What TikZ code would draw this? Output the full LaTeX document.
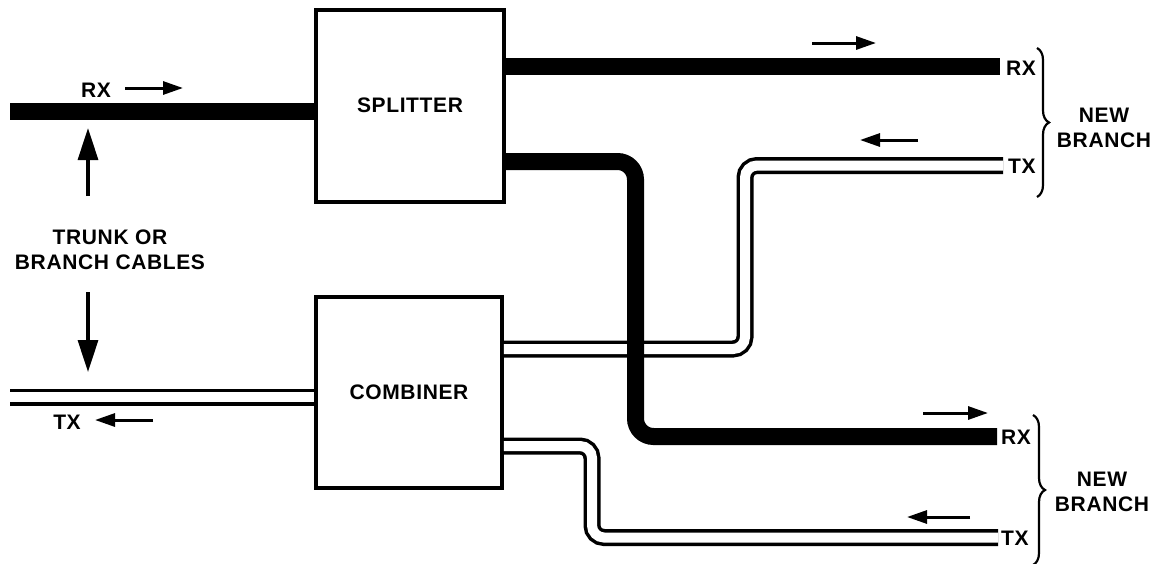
\documentclass[tikz,border=0pt]{standalone}
\usepackage{fontspec}
\setmainfont[LetterSpace=3]{Liberation Sans}
\usetikzlibrary{arrows.meta,decorations.pathreplacing}
\begin{document}
\begin{tikzpicture}[x=1pt,y=-1pt,
  txtf/.style={font=\bfseries\fontsize{21}{25.5}\selectfont},
  box/.style={draw,line width=3.5pt,minimum width=188pt,minimum height=192pt,inner sep=0pt,txtf},
  lbl/.style={inner sep=0pt,txtf},
  rxline/.style={line width=17pt},
  txline/.style={draw=black,line width=3.5pt,double=white,double distance=10pt,rounded corners=12pt},
  flow/.style={line width=3pt,-{Triangle[length=20pt,width=13pt]}},
  vflow/.style={line width=3.2pt,-{Triangle[length=32pt,width=20pt]}},
  br/.style={decorate,decoration={brace,amplitude=12pt},line width=2.2pt}]
\useasboundingbox (0,0) rectangle (1156,563);

\node[box] (spl) at (410,106) {\raisebox{2pt}{SPLITTER}};
\node[box,minimum width=186pt,minimum height=191pt] (comb) at (409,392.5) {COMBINER};

% free ends
\coordinate (inrx) at (10,111.5);
\coordinate (intx) at (10,397);
\coordinate (rx1) at (1000,66.5);
\coordinate (tx1) at (1003,165.5);
\coordinate (rx2) at (997,436.5);
\coordinate (tx2) at (998,537.5);

% TX (double) lines
\draw[txline] (intx) -- (comb.west |- intx);
\draw[txline] (comb.east |- 0,349) -- (745,349) -- (745,165.5) -- (tx1);
\draw[txline] (comb.east |- 0,446) -- (592,446) -- (592,537.5) -- (tx2);

% RX (thick) lines
\draw[rxline] (inrx) -- (spl.west |- inrx);
\draw[rxline] (spl.east |- rx1) -- (rx1);
\draw[rxline,rounded corners=18pt] (spl.east |- 0,161.5) -- (635.5,161.5) -- (635.5,436.5) -- (rx2);

% labels
\node[lbl] (lrx) at (96,90) {RX};
\node[lbl] (ltx) at (67,422) {TX};
\node[lbl,align=center] (trunk) at (110,250) {TRUNK OR\\BRANCH CABLES};
\node[lbl,anchor=west] (lrx1) at (1006,68) {RX};
\node[lbl,anchor=west] (ltx1) at (1008,166) {TX};
\node[lbl,anchor=west] (lrx2) at (1001,437) {RX};
\node[lbl,anchor=west] (ltx2) at (1001,538) {TX};
\node[lbl,align=center] (nb1) at (1104,128) {NEW\\BRANCH};
\node[lbl,align=center] (nb2) at (1102,492) {NEW\\BRANCH};

% braces
\draw[br] (1037,48) -- (1037,197);
\draw[br] (1033,415) -- (1033,565);

% flow arrows
\draw[flow] (125,88) -- (183,88);
\draw[flow] (153,420) -- (95,420);
\draw[flow] (812,43) -- (876,43);
\draw[flow] (918,140) -- (860,140);
\draw[flow] (923,413) -- (988,413);
\draw[flow] (970,517) -- (907,517);
\draw[vflow] (88,196) -- (88,128);
\draw[vflow] (88,292) -- (88,372);
\end{tikzpicture}
\end{document}
